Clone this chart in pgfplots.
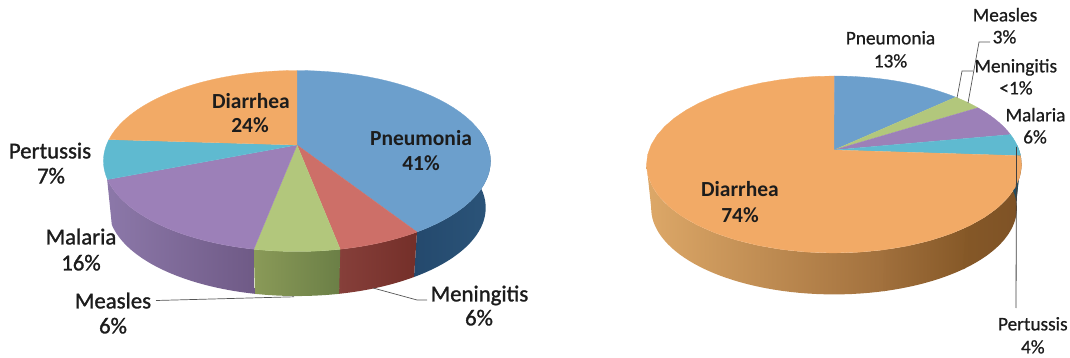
\documentclass[border=0pt]{standalone}
\usepackage{pgfplots}
\pgfplotsset{compat=1.18}
\usepackage{fontspec}
\setmainfont{Carlito}
\newfontfamily\semibold[FakeBold=1.2]{Carlito}
\newfontfamily\medium[FakeBold=0.7]{Carlito}

% Wedge colours of the top faces
\definecolor{cBlue}{HTML}{6C9FCC}
\definecolor{cRed}{HTML}{CD6F68}
\definecolor{cGreen}{HTML}{B2C77C}
\definecolor{cPurple}{HTML}{9C80B8}
\definecolor{cCyan}{HTML}{5FBAD0}
\definecolor{cOrange}{HTML}{F2AA66}
\definecolor{ink}{HTML}{1C1C1C}
\definecolor{leader}{HTML}{555555}
% Side wall colours
\definecolor{wBlueL}{HTML}{24496D}
\definecolor{wBlueR}{HTML}{2B5479}
\definecolor{wRedL}{HTML}{863F3A}
\definecolor{wRedR}{HTML}{742F29}
\definecolor{wGreenL}{HTML}{8A9A58}
\definecolor{wGreenR}{HTML}{6B7F46}
\definecolor{wPurpleL}{HTML}{8C78A9}
\definecolor{wPurpleR}{HTML}{6F5A86}
\definecolor{wCyanL}{HTML}{1F4A5E}
\definecolor{wCyanR}{HTML}{234F63}
\definecolor{wOrA}{HTML}{7E5226}
\definecolor{wOrB}{HTML}{855827}
\definecolor{wOrC}{HTML}{A06F3C}
\definecolor{wOrD}{HTML}{DDA868}

% Projection of a tilted disc: the hub sits above the centre of the drawn ellipse
\newcommand\setpie[6]{%
  \gdef\hubx{#1}\gdef\huby{#2}\gdef\pieA{#3}\gdef\pieB{#4}\gdef\pieK{#5}\gdef\pieDrop{#6}%
  \gdef\cum{0}}
% Appends rim points for shares #1..#2 (percent), shrunk by #3 and moved down by #4
\newcommand\rimarc[4]{%
  \foreach \i in {0,...,40}{%
    \pgfmathsetmacro\th{3.6*(#1+(#2-#1)*\i/40)}%
    \pgfmathsetmacro\dn{1+\pieK*cos(\th)}%
    \pgfmathsetmacro\px{\hubx+#3*\pieB*sin(\th)/\dn}%
    \pgfmathsetmacro\py{\huby-#3*\pieA*cos(\th)/\dn+#4}%
    \xdef\pts{\pts (\px,\py)}%
  }}
% Top face of a wedge with the given share
\newcommand\pieface[2]{%
  \pgfmathsetmacro\cumnext{\cum+#1}%
  \xdef\pts{(\hubx,\huby)}%
  \rimarc{\cum}{\cumnext}{1}{0}%
  \edef\temp{\noexpand\addplot[fill=#2,draw=#2,line width=0.3pt,mark=none,forget plot] coordinates {\pts};}\temp
  \xdef\cum{\cumnext}}
% Side wall between two cumulative shares, shaded from left to right
\newcommand\wall[4]{%
  \xdef\pts{}%
  \rimarc{#1}{#2}{1}{0}%
  \rimarc{#2}{#1}{0.975}{\pieDrop}%
  \edef\temp{\noexpand\addplot[shade,shading=axis,left color=#3,right color=#4,draw=none,mark=none,forget plot] coordinates {\pts};}\temp}
\newcommand\lab[3]{\node[anchor=mid,inner sep=0pt,text=ink,yshift=-4pt] at (axis cs:#1,#2) {#3};}

\begin{document}
\begin{tikzpicture}
\useasboundingbox (0,0) rectangle (1070pt,358pt);
\begin{axis}[
  x=1pt,y=1pt,y dir=reverse,
  xmin=0,xmax=1070,ymin=0,ymax=358,
  hide axis,clip=false,
  scale only axis,
]
% Deaths in the first chart
\setpie{297}{145}{87.67}{190.5}{0.1768}{47.2}
\wall{22.2}{41}{wBlueL}{wBlueR}
\wall{41}{47}{wRedL}{wRedR}
\wall{47}{53}{wGreenL}{wGreenR}
\wall{53}{69.2}{wPurpleL}{wPurpleR}
\pieface{41}{cBlue}
\pieface{6}{cRed}
\pieface{6}{cGreen}
\pieface{16}{cPurple}
\pieface{7}{cCyan}
\pieface{24}{cOrange}

% Deaths in the second chart
\setpie{834}{150}{86.1}{185}{0.164}{44}
\wall{46}{72.5}{wOrD}{wOrC}
\wall{39}{46.3}{wOrC}{wOrB}
\wall{26.4}{39.3}{wOrB}{wOrA}
\wall{24}{26.5}{wCyanL}{wCyanR}
\pieface{0.05}{cRed}
\pieface{13}{cBlue}
\pieface{3}{cGreen}
\pieface{6}{cPurple}
\pieface{4}{cCyan}
\pieface{73.95}{cOrange}

% Leader lines
\addplot[leader,line width=0.7pt,mark=none,forget plot] coordinates {(156,300.5) (294,296.8)};
\addplot[leader,line width=0.7pt,mark=none,forget plot] coordinates {(373,288) (417,300) (427,300)};
\addplot[leader,line width=0.7pt,mark=none,forget plot] coordinates {(968,103) (979,42) (990,42)};
\addplot[leader,line width=0.7pt,mark=none,forget plot] coordinates {(957,98) (962,71) (973,71)};
\addplot[black!75,line width=0.8pt,mark=none,forget plot] coordinates {(1016.5,147) (1016,308)};

% Labels, first chart
\lab{251}{102}{\fontsize{21.5}{24}\bfseries Diarrhea}
\lab{250}{126}{\fontsize{21.5}{24}\bfseries 24\%}
\lab{421}{139}{\fontsize{21.5}{24}\bfseries Pneumonia}
\lab{421}{164}{\fontsize{21.5}{24}\bfseries 41\%}
\lab{50}{152}{\fontsize{22.8}{24}\semibold Pertussis}
\lab{51}{177}{\fontsize{22.8}{24}\semibold 7\%}
\lab{81}{238}{\fontsize{22.8}{24}\semibold Malaria}
\lab{81}{264}{\fontsize{22.8}{24}\semibold 16\%}
\lab{113}{302}{\fontsize{22.8}{24}\semibold Measles}
\lab{113}{327}{\fontsize{22.8}{24}\semibold 6\%}
\lab{479.5}{295}{\fontsize{22.8}{24}\semibold Meningitis}
\lab{479}{319}{\fontsize{22.8}{24}\semibold 6\%}

% Labels, second chart
\lab{740}{190}{\fontsize{21.5}{24}\bfseries Diarrhea}
\lab{740}{216}{\fontsize{21.5}{24}\bfseries 74\%}
\lab{890.5}{38}{\fontsize{19.3}{22}\medium Pneumonia}
\lab{890.5}{61}{\fontsize{19.3}{22}\medium 13\%}
\lab{1005}{15}{\fontsize{19.3}{22}\medium Measles}
\lab{1004.5}{37}{\fontsize{19.3}{22}\medium 3\%}
\lab{1015.8}{66}{\fontsize{19.3}{22}\medium Meningitis}
\lab{1016}{88}{\fontsize{19.3}{22}\medium <1\%}
\lab{1035.5}{115}{\fontsize{19.3}{22}\medium Malaria}
\lab{1035}{137}{\fontsize{19.3}{22}\medium 6\%}
\lab{1032.8}{324}{\fontsize{19.3}{22}\medium Pertussis}
\lab{1032.8}{347}{\fontsize{19.3}{22}\medium 4\%}
\end{axis}
\end{tikzpicture}
\end{document}
